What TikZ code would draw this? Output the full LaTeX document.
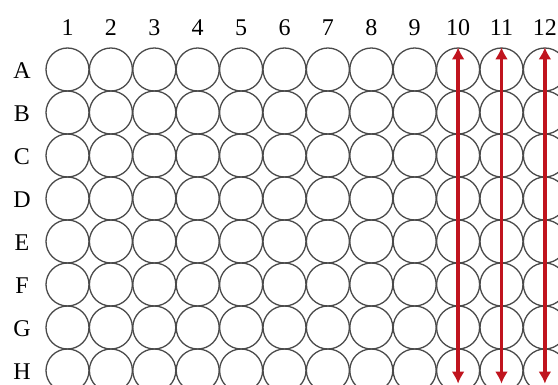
\documentclass[tikz,border=0pt]{standalone}
\usepackage{fontspec}
\setmainfont{Liberation Serif}
\usetikzlibrary{arrows.meta}
\definecolor{wellgray}{HTML}{4A4A4A}
\definecolor{arrowred}{HTML}{C0141E}
\tikzset{
  well/.style={draw=wellgray, circle, line width=1.3pt, minimum size=43pt, inner sep=0pt},
  lbl/.style={font=\fontsize{24}{24}\selectfont, inner sep=0pt},
  ar/.style={{Latex[length=12pt,width=13pt]}-{Latex[length=12pt,width=13pt]}, line width=3.8pt, draw=arrowred},
}
\begin{document}
\begin{tikzpicture}[x=1pt,y=-1pt]
  \useasboundingbox (0,0) rectangle (558,385);
  \clip (0,0) rectangle (558,385);
  % placa
  \foreach \r [count=\i from 0] in {A,B,C,D,E,F,G,H}{
    \node[lbl] (row\r) at (22,71+\i*43) {\r};
    \foreach \c in {1,...,12}{
      \node[well] (\r\c) at (67.5+\c*43.4-43.4,69.5+\i*43) {};
    }
  }
  \foreach \c in {1,...,12}
    \node[lbl] (col\c) at (67.5+\c*43.4-43.4,28) {\c};
  % flechas
  \foreach \c in {10,11,12}
    \draw[ar] (A\c.north) -- ([yshift=9pt]H\c.south);
\end{tikzpicture}
\end{document}
